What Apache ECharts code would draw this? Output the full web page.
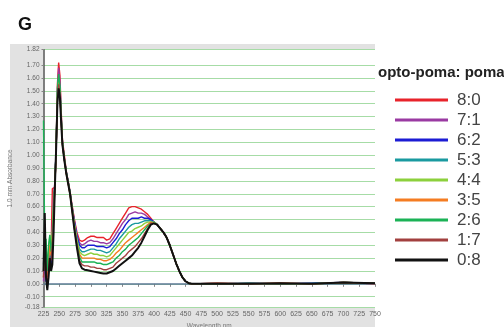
<!DOCTYPE html>
<html>
<head>
<meta charset="utf-8">
<script src="https://cdn.jsdelivr.net/npm/echarts@6/dist/echarts.min.js"></script>
<style>
  html, body { margin: 0; padding: 0; background: #fff; }
  #chart { width: 504px; height: 327px; }
</style>
</head>
<body>
<div id="chart"></div>
<script>
// wavelength (nm) sample points
var wavelength = [225,227,229,231,233,235,237,239,241,243,245,
    247,249,251,253,255,
    258,261,264,267,270,
    274,278,282,286,290,
    295,300,305,310,315,320,325,330,335,340,345,350,355,360,365,370,375,380,385,390,395,400,
    405,410,415,420,425,430,435,440,445,450,455,460,
    500,550,600,650,700,750];

// absorbance per ratio (opto-poma : poma)
var r80 = [0.05,0.30,0.10,0.02,0.15,0.20,0.25,0.74,0.74,0.75,1.05,
    1.55,1.72,1.62,1.35,1.12,
    1.00,0.88,0.80,0.72,0.62,
    0.50,0.40,0.34,0.33,0.34,
    0.36,0.37,0.37,0.36,0.36,0.36,0.34,0.35,0.39,0.43,0.47,0.51,0.55,0.59,0.60,0.60,0.59,0.58,0.56,0.54,0.51,0.48,
    0.46,0.43,0.40,0.36,0.30,0.23,0.16,0.10,0.05,0.02,0.005,0,
    0,0.005,0,0.005,0.01,0.005];
var r71 = [0.02,0.20,0.05,-0.02,0.10,0.25,0.30,0.45,0.70,0.78,1.05,
    1.50,1.68,1.58,1.32,1.10,
    0.98,0.87,0.80,0.71,0.61,
    0.49,0.38,0.32,0.30,0.31,
    0.33,0.34,0.33,0.33,0.32,0.32,0.31,0.32,0.35,0.39,0.43,0.47,0.50,0.54,0.55,0.56,0.55,0.55,0.54,0.52,0.50,0.48,
    0.46,0.43,0.40,0.36,0.30,0.23,0.16,0.10,0.05,0.02,0.005,0,
    0.005,0,0.005,0,0.01,0.005];
var r62 = [0.08,0.15,0.02,0.00,0.12,0.22,0.15,0.30,0.55,0.76,1.05,
    1.45,1.56,1.50,1.28,1.09,
    0.97,0.87,0.79,0.71,0.60,
    0.48,0.37,0.30,0.28,0.28,
    0.30,0.30,0.30,0.29,0.29,0.29,0.28,0.29,0.32,0.35,0.39,0.42,0.46,0.49,0.51,0.51,0.51,0.52,0.51,0.51,0.50,0.48,
    0.46,0.43,0.40,0.36,0.30,0.23,0.16,0.10,0.05,0.02,0.005,0,
    0,0.005,0,0.005,0.01,0];
var r53 = [0.15,0.35,0.10,0.05,0.20,0.30,0.20,0.35,0.60,0.77,1.05,
    1.48,1.60,1.52,1.30,1.10,
    0.97,0.87,0.79,0.71,0.60,
    0.47,0.35,0.27,0.25,0.25,
    0.26,0.27,0.27,0.26,0.26,0.25,0.24,0.25,0.28,0.31,0.35,0.38,0.41,0.44,0.46,0.47,0.47,0.48,0.49,0.49,0.49,0.48,
    0.46,0.43,0.40,0.36,0.30,0.23,0.16,0.10,0.05,0.02,0.005,0,
    0.005,0,0,0.005,0.01,0.005];
var r44 = [0.20,0.25,0.15,0.10,0.25,0.38,0.30,0.40,0.62,0.76,1.04,
    1.47,1.58,1.50,1.29,1.09,
    0.97,0.86,0.79,0.70,0.60,
    0.46,0.34,0.25,0.23,0.22,
    0.23,0.24,0.23,0.23,0.22,0.22,0.21,0.22,0.25,0.28,0.31,0.34,0.37,0.40,0.41,0.43,0.44,0.45,0.47,0.48,0.48,0.48,
    0.46,0.43,0.40,0.36,0.30,0.23,0.16,0.10,0.05,0.02,0.005,0,
    0,0,0.005,0,0.01,0.005];
var r35 = [0.10,0.20,0.05,0.02,0.18,0.30,0.22,0.35,0.58,0.75,1.04,
    1.46,1.57,1.49,1.28,1.09,
    0.97,0.86,0.78,0.70,0.59,
    0.45,0.32,0.23,0.20,0.20,
    0.20,0.20,0.20,0.19,0.19,0.18,0.18,0.19,0.21,0.24,0.26,0.29,0.32,0.34,0.36,0.38,0.40,0.42,0.44,0.46,0.48,0.47,
    0.46,0.43,0.40,0.36,0.30,0.23,0.16,0.10,0.05,0.02,0.005,0,
    0.005,0,0.005,0,0.01,0];
var r26 = [1.27,0.30,0.35,0.10,0.30,0.38,0.25,0.35,0.60,0.76,1.06,
    1.52,1.63,1.54,1.30,1.10,
    0.97,0.87,0.79,0.71,0.59,
    0.44,0.31,0.21,0.17,0.17,
    0.17,0.17,0.17,0.16,0.16,0.15,0.15,0.16,0.17,0.20,0.22,0.25,0.27,0.30,0.32,0.34,0.36,0.39,0.42,0.45,0.47,0.47,
    0.46,0.43,0.40,0.36,0.30,0.23,0.16,0.10,0.05,0.02,0.005,0,
    0,0.005,0,0,0.01,0.005];
var r17 = [0.05,0.25,0.08,0.00,0.12,0.20,0.18,0.30,0.50,0.75,1.04,
    1.44,1.55,1.47,1.27,1.08,
    0.96,0.86,0.78,0.70,0.58,
    0.43,0.29,0.18,0.15,0.14,
    0.14,0.13,0.13,0.12,0.12,0.11,0.11,0.12,0.13,0.16,0.18,0.20,0.22,0.25,0.27,0.29,0.32,0.35,0.39,0.43,0.47,0.47,
    0.46,0.43,0.40,0.36,0.30,0.23,0.16,0.10,0.05,0.02,0.005,0,
    0.005,0,0.005,0,0.01,0.005];
var r08 = [0.10,0.55,0.05,-0.05,0.05,0.20,0.10,0.15,0.40,0.75,1.05,
    1.40,1.52,1.45,1.25,1.08,
    0.96,0.86,0.78,0.70,0.58,
    0.42,0.28,0.16,0.12,0.11,
    0.105,0.10,0.095,0.09,0.085,0.08,0.08,0.09,0.10,0.12,0.14,0.16,0.18,0.20,0.22,0.25,0.28,0.32,0.37,0.42,0.46,0.47,
    0.46,0.43,0.40,0.36,0.30,0.23,0.16,0.10,0.05,0.02,0.005,0,
    0,0,0.005,0,0.01,0.005];

var ratioNames = ['8:0','7:1','6:2','5:3','4:4','3:5','2:6','1:7','0:8'];
var ratioData = [r80, r71, r62, r53, r44, r35, r26, r17, r08];
var ratioColors = ['#e8232b','#9a3aa2','#1c1cd4','#1a9aa0','#8cd03c','#f47c22','#1bb256','#a2403f','#111111'];

var yLabels = [-0.18,-0.1,0,0.1,0.2,0.3,0.4,0.5,0.6,0.7,0.8,0.9,1.0,1.1,1.2,1.3,1.4,1.5,1.6,1.7,1.82];

var chart = echarts.init(document.getElementById('chart'));

var series = ratioNames.map(function (name, k) {
    return {
        name: name,
        type: 'line',
        symbol: 'none',
        z: 3 + k,
        lineStyle: { width: k === 8 ? 2 : 1.4, color: ratioColors[k] },
        itemStyle: { color: ratioColors[k] },
        data: wavelength.map(function (w, i) { return [w, ratioData[k][i]]; })
    };
});
// zero reference line
series[0].markLine = {
    silent: true,
    symbol: 'none',
    label: { show: false },
    lineStyle: { color: '#5d7896', width: 1.5, type: 'solid' },
    data: [{ yAxis: 0 }]
};

chart.setOption({
    animation: false,
    textStyle: { fontFamily: 'Liberation Sans, Arial, sans-serif' },
    graphic: [{
        type: 'rect',
        z: -10,
        shape: { x: 10, y: 44, width: 365, height: 283 },
        style: { fill: '#e2e2e2' }
    }],
    title: [
        { text: 'G', left: 13, top: 11, textStyle: { fontSize: 18, fontWeight: 'bold', color: '#111' } },
        { text: 'opto-poma: poma', left: 373, top: 60, textStyle: { fontSize: 15, fontWeight: 'bold', color: '#222' } }
    ],
    legend: {
        orient: 'vertical',
        left: 390,
        top: 85,
        icon: 'rect',
        itemWidth: 53,
        itemHeight: 3,
        itemGap: 0,
        data: ratioNames,
        textStyle: { fontSize: 17, color: '#444', lineHeight: 20, padding: [0, 0, 0, 4] }
    },
    grid: {
        left: 43.5, right: 129, top: 49.7, bottom: 20,
        outerBoundsMode: 'none',
        containLabel: false,
        show: true, backgroundColor: '#ffffff', borderWidth: 0
    },
    xAxis: {
        type: 'value',
        min: 225, max: 750, interval: 25,
        name: 'Wavelength nm',
        nameLocation: 'middle',
        nameGap: 14,
        nameTextStyle: { fontSize: 6.5, color: '#777' },
        axisLine: { show: false },
        axisTick: { show: true, length: 3, lineStyle: { color: '#888' } },
        axisLabel: { fontSize: 7, color: '#666', margin: 4 },
        splitLine: { show: false }
    },
    yAxis: {
        type: 'value',
        min: -0.18, max: 1.82,
        name: '1.0 mm Absorbance',
        nameLocation: 'middle',
        nameGap: 27,
        nameTextStyle: { fontSize: 6.5, color: '#777' },
        axisLine: { show: true, lineStyle: { color: '#555', width: 1.5 } },
        axisTick: { show: true, length: 2, customValues: yLabels, lineStyle: { color: '#888' } },
        axisLabel: {
            fontSize: 6.5, color: '#666', margin: 4,
            customValues: yLabels,
            formatter: function (v) { return v.toFixed(2); }
        },
        splitLine: { show: true, lineStyle: { color: '#a6dca6', width: 1 } }
    },
    series: series
});
</script>
</body>
</html>
